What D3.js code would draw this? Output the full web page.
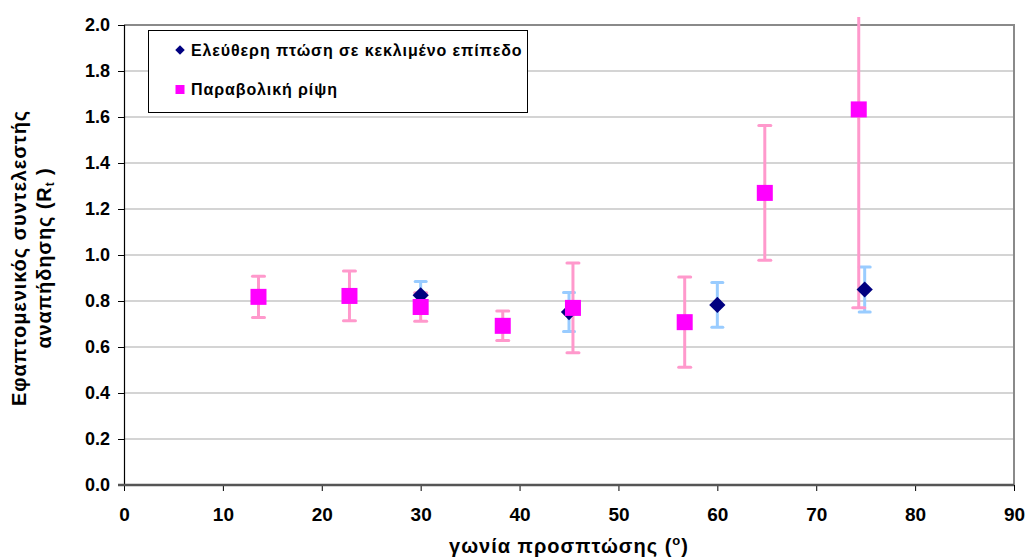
<!DOCTYPE html>
<html>
<head>
<meta charset="utf-8">
<script src="https://cdn.jsdelivr.net/npm/d3@7"></script>
<style>
  html, body { margin: 0; padding: 0; background: #fff; }
  svg { display: block; font-family: "Liberation Sans", Arial, sans-serif; }
</style>
</head>
<body>
<svg id="chart" width="1027" height="557"></svg>
<script>
// ---- Data ----
const freeFallAngle  = [30.0, 45.0, 60.0, 74.9];
const freeFallValue  = [0.825, 0.752, 0.783, 0.850];
const freeFallErr    = [0.060, 0.085, 0.097, 0.098];

const projAngle = [13.6, 22.8, 30.0, 38.3, 45.4, 56.7, 64.8, 74.3];
const projValue = [0.818, 0.822, 0.774, 0.692, 0.770, 0.708, 1.270, 1.633];
const projErr   = [0.090, 0.108, 0.062, 0.064, 0.195, 0.196, 0.293, 0.862];

const xTicks = [0, 10, 20, 30, 40, 50, 60, 70, 80, 90];
const yTicks = [0.0, 0.2, 0.4, 0.6, 0.8, 1.0, 1.2, 1.4, 1.6, 1.8, 2.0];

const legendLabels = ["Ελεύθερη πτώση σε κεκλιμένο επίπεδο", "Παραβολική ρίψη"];

// ---- Layout ----
const svg = d3.select("#chart");
const L = 124, R = 1014, T = 25, B = 485;
const x = d3.scaleLinear().domain([0, 90]).range([L, R]);
const y = d3.scaleLinear().domain([0, 2]).range([B, T]);

// gridlines
svg.append("g").selectAll("line").data(yTicks.filter(d => d > 0 && d < 2)).join("line")
  .attr("x1", L).attr("x2", R).attr("y1", d => y(d)).attr("y2", d => y(d))
  .attr("stroke", "#d4d4d4").attr("stroke-width", 2);

// plot border (top & right)
svg.append("path")
  .attr("d", `M${L},${y(2)}H${R}V${B}`)
  .attr("fill", "none").attr("stroke", "#8a8a8a").attr("stroke-width", 2);

// axes
const yAxis = d3.axisLeft(y).tickValues(yTicks).tickFormat(d3.format(".1f")).tickSize(6).tickPadding(8);
const gy = svg.append("g").attr("transform", `translate(${L},0)`).call(yAxis);
gy.select(".domain").attr("stroke", "#000").attr("stroke-width", 1.2);
gy.selectAll(".tick line").attr("stroke", "#000");
gy.selectAll("text").attr("font-size", 18).attr("font-weight", "bold").attr("fill", "#000")
  .attr("font-family", "Liberation Sans, Arial, sans-serif");

const xAxis = d3.axisBottom(x).tickValues(xTicks).tickFormat(d3.format("d")).tickSize(6).tickPadding(17);
const gx = svg.append("g").attr("transform", `translate(0,${B})`).call(xAxis);
gx.select(".domain").remove();
gx.selectAll(".tick line").attr("stroke", "#000");
gx.selectAll("text").attr("font-size", 19).attr("font-weight", "bold").attr("fill", "#000")
  .attr("font-family", "Liberation Sans, Arial, sans-serif");
svg.append("line").attr("x1", L - 6).attr("x2", R).attr("y1", B).attr("y2", B)
  .attr("stroke", "#555").attr("stroke-width", 2.5);

// clip for error bars (slightly beyond plot top as in the original)
svg.append("clipPath").attr("id", "clip").append("rect")
  .attr("x", L).attr("y", T - 8).attr("width", R - L + 10).attr("height", B - T + 8);

const gErr = svg.append("g").attr("clip-path", "url(#clip)");

function errBars(xs, vs, es, color, cap) {
  const data = xs.map((a, i) => ({ a, v: vs[i], e: es[i] }));
  const g = gErr.append("g");
  g.selectAll(".v").data(data).join("line")
    .attr("x1", d => x(d.a)).attr("x2", d => x(d.a))
    .attr("y1", d => y(d.v + d.e)).attr("y2", d => y(d.v - d.e))
    .attr("stroke", color).attr("stroke-width", 3);
  g.selectAll(".top").data(data.filter(d => d.v + d.e <= 2)).join("line")
    .attr("x1", d => x(d.a) - cap).attr("x2", d => x(d.a) + cap)
    .attr("y1", d => y(d.v + d.e)).attr("y2", d => y(d.v + d.e))
    .attr("stroke", color).attr("stroke-width", 3).attr("stroke-linecap", "round");
  g.selectAll(".bot").data(data).join("line")
    .attr("x1", d => x(d.a) - cap).attr("x2", d => x(d.a) + cap)
    .attr("y1", d => y(d.v - d.e)).attr("y2", d => y(d.v - d.e))
    .attr("stroke", color).attr("stroke-width", 3).attr("stroke-linecap", "round");
}
errBars(freeFallAngle, freeFallValue, freeFallErr, "#99CCFF", 5.5);
errBars(projAngle, projValue, projErr, "#FF99CC", 6);

// markers
const diamond = d3.symbol().type(d3.symbolSquare).size(132);
svg.append("g").selectAll("path").data(freeFallAngle.map((a, i) => ({ a, v: freeFallValue[i] }))).join("path")
  .attr("d", diamond)
  .attr("transform", d => `translate(${x(d.a)},${y(d.v)}) rotate(45)`)
  .attr("fill", "#000080");

svg.append("g").selectAll("rect").data(projAngle.map((a, i) => ({ a, v: projValue[i] }))).join("rect")
  .attr("x", d => x(d.a) - 8).attr("y", d => y(d.v) - 8)
  .attr("width", 16).attr("height", 16).attr("fill", "#FF00FF");

// legend
const lg = svg.append("g");
lg.append("rect").attr("x", 148.5).attr("y", 30.5).attr("width", 379).attr("height", 82)
  .attr("fill", "#fff").attr("stroke", "#000").attr("stroke-width", 1);
lg.append("path").attr("d", d3.symbol().type(d3.symbolSquare).size(45))
  .attr("transform", "translate(180,50) rotate(45)").attr("fill", "#000080");
lg.append("rect").attr("x", 175.5).attr("y", 85).attr("width", 9).attr("height", 9).attr("fill", "#FF00FF");
lg.selectAll("text").data(legendLabels).join("text")
  .attr("x", 191).attr("y", (d, i) => 56 + i * 39)
  .attr("font-size", 16).attr("letter-spacing", 0.9).attr("font-weight", "bold").attr("fill", "#000")
  .text(d => d);

// axis titles
const xt = svg.append("text").attr("x", 569).attr("y", 553).attr("text-anchor", "middle")
  .attr("font-size", 20).attr("letter-spacing", 1).attr("font-weight", "bold").attr("fill", "#000");
xt.append("tspan").text("γωνία προσπτώσης (");
xt.append("tspan").attr("font-size", 13).attr("dy", -8).text("o");
xt.append("tspan").attr("dy", 8).text(")");

const yt = svg.append("text").attr("transform", "translate(0,258) rotate(-90)")
  .attr("text-anchor", "middle").attr("font-size", 20).attr("letter-spacing", 0.9)
  .attr("font-weight", "bold").attr("fill", "#000");
yt.append("tspan").attr("x", 0).attr("y", 26).text("Εφαπτομενικός συντελεστής");
const l2 = yt.append("tspan").attr("x", 0).attr("y", 51);
l2.text("αναπήδησης (R");
yt.append("tspan").attr("font-size", 12).attr("dy", 3).text("t");
yt.append("tspan").attr("dy", -3).text(" )");
</script>
</body>
</html>
